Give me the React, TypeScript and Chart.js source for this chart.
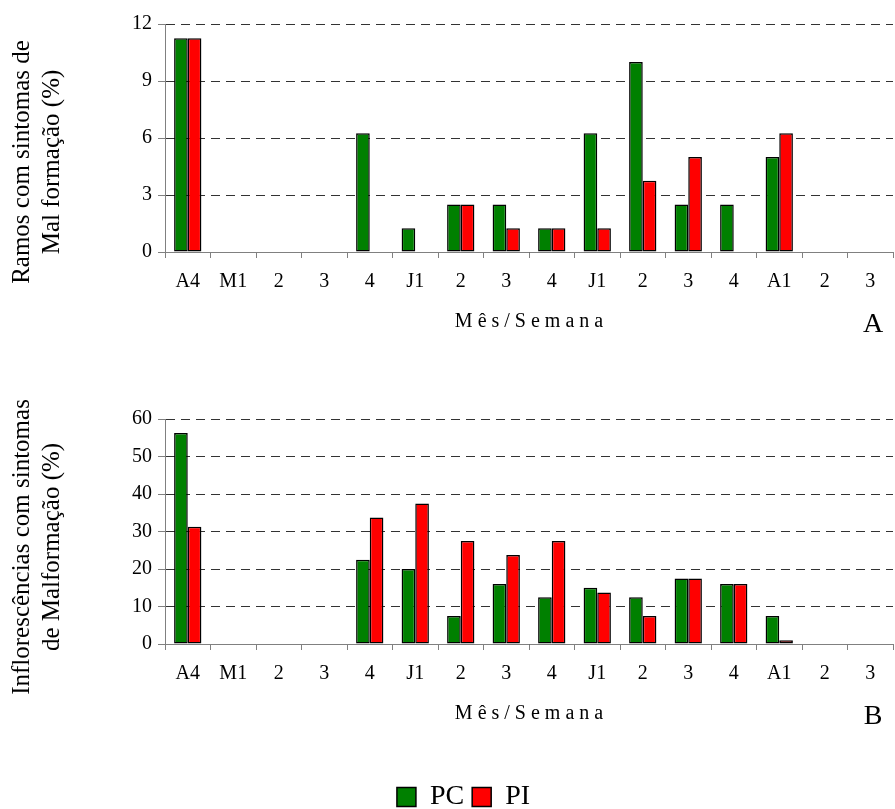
import React, { useEffect, useRef } from "react";
import { Chart, registerables } from "chart.js";

Chart.register(...registerables);

const categories = ["A4", "M1", "2", "3", "4", "J1", "2", "3", "4", "J1", "2", "3", "4", "A1", "2", "3"];

const ramosPC = [11.25, 0, 0, 0, 6.25, 1.25, 2.5, 2.5, 1.25, 6.25, 10, 2.5, 2.5, 5, 0, 0];
const ramosPI = [11.25, 0, 0, 0, 0, 0, 2.5, 1.25, 1.25, 1.25, 3.75, 5, 0, 6.25, 0, 0];

const inflPC = [56.25, 0, 0, 0, 22.5, 20, 7.5, 16, 12.5, 15, 12.5, 17.5, 16, 7.5, 0, 0];
const inflPI = [31.25, 0, 0, 0, 33.75, 37.5, 27.5, 23.75, 27.5, 13.75, 7.5, 17.5, 16, 1, 0, 0];

const seriesNames = ["PC", "PI"];
const seriesColors = ["#008000", "#FF0000"];

const topYTitle = ["Ramos com sintomas de", "Mal formação (%)"];
const bottomYTitle = ["Inflorescências com sintomas", "de Malformação (%)"];
const xTitle = "Mês/Semana";

const FONT = '"Liberation Serif", "Times New Roman", serif';

function textPlugin(yTitle: string[], yCenter: number, panel: string) {
  return {
    id: "customText",
    afterDraw(chart: any) {
      const ctx = chart.ctx as CanvasRenderingContext2D;
      const a = chart.chartArea;
      ctx.save();
      ctx.fillStyle = "#000";
      ctx.font = `25px ${FONT}`;
      ctx.textAlign = "center";
      ctx.textBaseline = "alphabetic";
      const xs = [29, 59];
      yTitle.forEach((line, i) => {
        ctx.save();
        ctx.translate(xs[i], yCenter);
        ctx.rotate(-Math.PI / 2);
        ctx.fillText(line, 0, 0);
        ctx.restore();
      });
      ctx.save();
      ctx.font = `20px ${FONT}`;
      (ctx as any).letterSpacing = "5px";
      ctx.textAlign = "center";
      ctx.fillText(xTitle, (a.left + a.right) / 2 + 2.5, a.bottom + 75);
      ctx.restore();
      ctx.font = `28px ${FONT}`;
      ctx.textAlign = "center";
      ctx.fillText(panel, a.right - 20, a.bottom + 80);
      ctx.restore();
    },
  };
}

function makeConfig(
  pc: number[],
  pi: number[],
  max: number,
  step: number,
  showLegend: boolean,
  yTitle: string[],
  yCenter: number,
  panel: string,
  padTop: number,
  padLeft: number,
  xHeight: number
): any {
  return {
    type: "bar",
    data: {
      labels: categories,
      datasets: [pc, pi].map((d, i) => ({
        label: seriesNames[i],
        data: d,
        backgroundColor: seriesColors[i],
        borderColor: "#000",
        borderWidth: 1.5,
        borderSkipped: false,
        categoryPercentage: 0.6,
        barPercentage: 1.0,
      })),
    },
    options: {
      responsive: false,
      maintainAspectRatio: false,
      animation: false,
      layout: { padding: { top: padTop, left: padLeft, right: 2, bottom: 0 } },
      plugins: {
        legend: {
          display: showLegend,
          position: "bottom",
          labels: {
            boxWidth: 19,
            boxHeight: 19,
            padding: 8,
            color: "#000",
            font: { family: FONT, size: 28 },
          },
        },
        tooltip: { enabled: false },
      },
      scales: {
        x: {
          grid: {
            display: true,
            drawOnChartArea: false,
            offset: true,
            tickLength: 6,
            color: "#808080",
          },
          border: { display: true, color: "#808080", width: 1 },
          ticks: {
            color: "#000",
            font: { family: FONT, size: 20 },
            padding: 12,
            maxRotation: 0,
            autoSkip: false,
          },
          afterFit: (scale: any) => {
            scale.height = xHeight;
          },
        },
        y: {
          min: 0,
          max: max,
          grid: {
            color: "#333",
            tickColor: "#808080",
            tickLength: 7,
            lineWidth: 1,
          },
          border: { display: true, color: "#808080", width: 1, dash: [9, 6] },
          ticks: {
            stepSize: step,
            color: "#000",
            font: { family: FONT, size: 20 },
            padding: 6,
          },
          afterFit: (scale: any) => {
            scale.width = 165 - padLeft;
          },
        },
      },
    },
    plugins: [textPlugin(yTitle, yCenter, panel)],
  };
}

export default function App() {
  const topRef = useRef<HTMLCanvasElement>(null);
  const botRef = useRef<HTMLCanvasElement>(null);

  useEffect(() => {
    const c1 = new Chart(
      topRef.current!,
      makeConfig(ramosPC, ramosPI, 12, 3, false, topYTitle, 162, "A", 24, 0, 118)
    );
    const c2 = new Chart(
      botRef.current!,
      makeConfig(inflPC, inflPI, 60, 10, true, bottomYTitle, 177, "B", 49, 34, 131)
    );
    return () => {
      c1.destroy();
      c2.destroy();
    };
  }, []);

  return (
    <div
      style={{
        position: "absolute",
        left: 0,
        top: 0,
        width: 895,
        height: 809,
        overflow: "hidden",
        background: "#fff",
      }}
    >
      <canvas
        ref={topRef}
        width={895}
        height={370}
        style={{ position: "absolute", left: 0, top: 0, display: "block" }}
      />
      <canvas
        ref={botRef}
        width={895}
        height={451}
        style={{ position: "absolute", left: 0, top: 370, display: "block" }}
      />
    </div>
  );
}
